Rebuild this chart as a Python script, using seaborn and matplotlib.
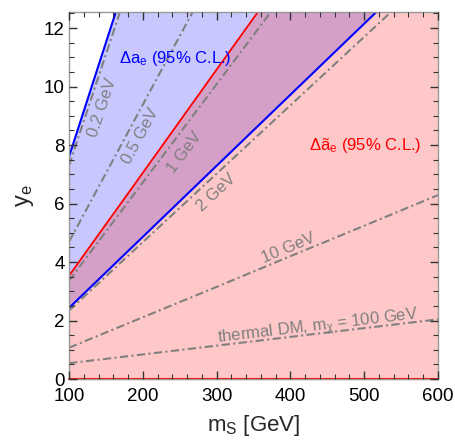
import numpy as np
import pandas as pd
import matplotlib
matplotlib.use("Agg")
import matplotlib.pyplot as plt
import seaborn as sns
from matplotlib.ticker import MultipleLocator

sns.set_theme(style="ticks")
plt.rcParams['font.family'] = ['Liberation Sans', 'DejaVu Sans']
plt.rcParams['mathtext.fontset'] = 'custom'
plt.rcParams['mathtext.rm'] = 'Liberation Sans'
plt.rcParams['mathtext.it'] = 'Liberation Sans:italic'

# ---- data ----
m_S = [100, 200, 300, 400, 500, 600]
blue_upper = [7.6, 15.4, 23.2, 31.0, 38.7, 46.5]     # Delta a_e upper edge
blue_lower = [2.43, 4.86, 7.29, 9.72, 12.15, 14.58]  # Delta a_e lower edge
red_upper = [3.53, 7.05, 10.58, 14.1, 17.63, 21.15]  # Delta a~_e upper edge
thermal_label = "thermal DM, m$_\\mathregular{χ}$ = 100 GeV"
contour_values = {
    "0.2 GeV": [7.3, 14.9, 22.5, 30.1, 37.7, 45.3],
    "0.5 GeV": [4.69, 9.38, 14.07, 18.76, 23.45, 28.14],
    "1 GeV": [3.36, 6.72, 10.08, 13.44, 16.8, 20.16],
    "2 GeV": [2.34, 4.68, 7.02, 9.36, 11.7, 14.04],
    "10 GeV": [1.07, 2.11, 3.15, 4.20, 5.24, 6.29],
    thermal_label: [0.54, 0.84, 1.14, 1.44, 1.74, 2.04],
}
# label anchor on line (m_S), perpendicular offset in pixels (+ = below/right), font size
label_anchor = {
    "0.2 GeV": (128, 11.5, 12),
    "0.5 GeV": (182, 11.5, 12),
    "1 GeV": (240, 13.5, 12),
    "2 GeV": (287, 11.5, 12),
    "10 GeV": (401, -9.5, 12),
    thermal_label: (438, -10, 12),
}

df = pd.DataFrame({"m_S": m_S, "blue_upper": blue_upper, "blue_lower": blue_lower, "red_upper": red_upper})

fig = plt.figure(figsize=(4.56, 4.45), dpi=100)
ax = fig.add_axes([69/456, 1-379/445, (438-69)/456, (379-12)/445])
ax.set_xlim(100, 600)
ax.set_ylim(0, 12.55)

x = np.array(m_S, dtype=float)
bu = np.array(blue_upper); bl = np.array(blue_lower); ru = np.array(red_upper)

pink = "#ffc8c8"
lblue = "#c8c8ff"
purple = "#d4a0c8"
ax.fill_between(x, 0, bl, color=pink, lw=0, zorder=0.2)
ax.fill_between(x, bl, ru, color=purple, lw=0, zorder=0.2)
ax.fill_between(x, ru, bu, color=lblue, lw=0, zorder=0.2)

gray = "#808080"
for name, vals in contour_values.items():
    sns.lineplot(x=m_S, y=vals, ax=ax, color=gray, lw=1.5, zorder=2,
                 linestyle=(0, (4, 1.6, 1, 1.6)), legend=False)

sns.lineplot(data=df, x="m_S", y="blue_upper", ax=ax, color="#0000ff", lw=1.5, zorder=3)
sns.lineplot(data=df, x="m_S", y="blue_lower", ax=ax, color="#0000ff", lw=1.5, zorder=3)
sns.lineplot(data=df, x="m_S", y="red_upper", ax=ax, color="#ff0000", lw=1.3, zorder=3)
ax.axhline(0, color="#ff0000", lw=1.5, zorder=3, clip_on=False)

fig.canvas.draw()
inv = ax.transData.inverted()
for name, vals in contour_values.items():
    p0 = ax.transData.transform((m_S[0], vals[0]))
    p1 = ax.transData.transform((m_S[-1], vals[-1]))
    d = p1 - p0
    d = d / np.hypot(*d)
    ang = np.degrees(np.arctan2(d[1], d[0]))
    normal = np.array([d[1], -d[0]])  # points right/below
    am, off, fs = label_anchor[name]
    ay = np.interp(am, m_S, vals)
    pa = ax.transData.transform((am, ay)) + normal * off
    lx, ly = inv.transform(pa)
    ax.text(lx, ly, name, rotation=ang, rotation_mode="anchor", ha="center",
            va="center_baseline", color=gray, fontsize=fs, zorder=4)

ax.text(244, 10.97, "Δa$_\\mathregular{e}$ (95% C.L.)", color="#0000ff", fontsize=12,
        ha="center", va="center", zorder=4)
ax.text(501, 8.0, "Δã$_\\mathregular{e}$ (95% C.L.)", color="#ff0000", fontsize=12,
        ha="center", va="center", zorder=4)

ax.set_xlabel("m$_\\mathregular{S}$ [GeV]", fontsize=16, labelpad=6)
ax.set_ylabel("y$_\\mathregular{e}$", fontsize=17, labelpad=6)
ax.xaxis.set_major_locator(MultipleLocator(100))
ax.xaxis.set_minor_locator(MultipleLocator(20))
ax.yaxis.set_major_locator(MultipleLocator(2))
ax.yaxis.set_minor_locator(MultipleLocator(0.5))
ax.tick_params(which="both", direction="in", top=True, right=True, bottom=True, left=True,
               color="#333333")
ax.tick_params(axis="x", which="major", pad=6.5)
ax.tick_params(axis="y", which="major", pad=3)
ax.tick_params(which="major", length=6, width=1.0, labelsize=13.5, labelcolor="black")
ax.tick_params(which="minor", length=3.5, width=0.8)
ax.xaxis.set_zorder(6)
ax.yaxis.set_zorder(6)
for s in ax.spines.values():
    s.set_color("#999999")
    s.set_linewidth(1.0)
    s.set_visible(True)
    s.set_zorder(5)

fig.savefig("out.png", dpi=100)
